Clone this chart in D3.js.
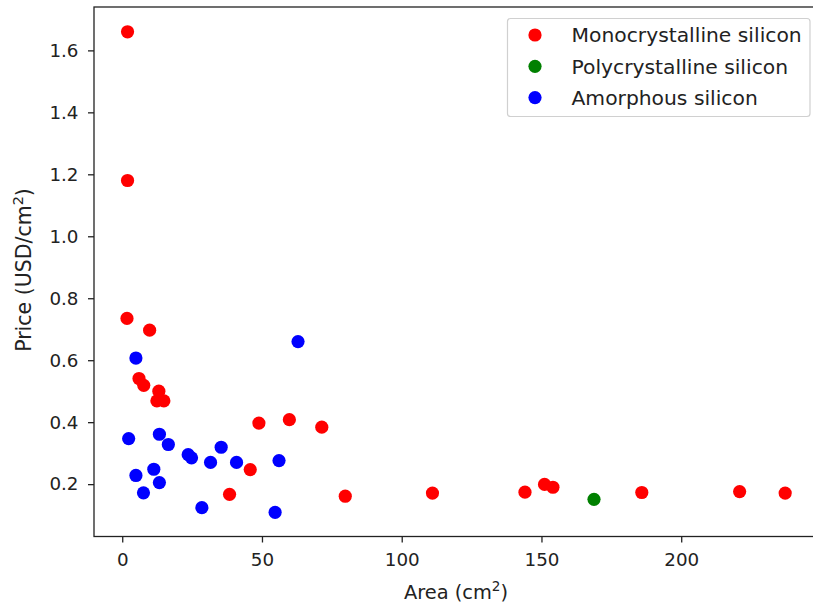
<!DOCTYPE html>
<html>
<head>
<meta charset="utf-8">
<script src="https://cdn.jsdelivr.net/npm/d3@7"></script>
<style>
  body { margin: 0; background: #fff; }
  svg text { font-family: "DejaVu Sans", sans-serif; fill: #222; }
</style>
</head>
<body>
<svg id="chart"></svg>
<script>
// values
var monoArea  = [1.9, 1.9, 1.7, 9.8, 6.0, 7.7, 13.1, 12.4, 14.9, 48.9, 59.8, 71.4, 45.8, 38.4, 79.8, 111.0, 144.1, 151.1, 154.1, 185.9, 220.9, 237.2]
var monoPrice = [1.66, 1.18, 0.735, 0.697, 0.541, 0.519, 0.50, 0.469, 0.469, 0.397, 0.408, 0.384, 0.247, 0.167, 0.161, 0.171, 0.174, 0.199, 0.190, 0.173, 0.176, 0.171]

var polyArea  = [168.8]
var polyPrice = [0.151]

var amorArea  = [4.9, 2.3, 13.3, 16.5, 23.6, 24.8, 35.4, 31.6, 40.9, 56.1, 4.9, 11.3, 13.3, 7.6, 28.5, 54.7, 62.9]
var amorPrice = [0.607, 0.347, 0.361, 0.328, 0.295, 0.285, 0.319, 0.270, 0.270, 0.276, 0.228, 0.248, 0.205, 0.172, 0.124, 0.109, 0.660]

var xTicks = [0, 50, 100, 150, 200]
var yTicks = [0.2, 0.4, 0.6, 0.8, 1.0, 1.2, 1.4, 1.6]

var series = [
  {name: "Monocrystalline silicon", color: "red", x: monoArea, y: monoPrice},
  {name: "Polycrystalline silicon", color: "green", x: polyArea, y: polyPrice},
  {name: "Amorphous silicon", color: "blue", x: amorArea, y: amorPrice}
]

var width = 813, height = 608
var plotLeft = 94, plotTop = 7, plotRight = 819, plotBottom = 536.5
var tickFont = 18.3, labelFont = 19.4, yLabelFont = 20.5, legendFont = 20.3

var svg = d3.select("#chart").attr("width", width).attr("height", height)

var x = d3.scaleLinear().domain([-10.1, 249.3]).range([plotLeft, plotRight])
var y = d3.scaleLinear().domain([0.031, 1.740]).range([plotBottom, plotTop])

// points
series.forEach(function(s) {
  svg.append("g").selectAll("circle")
    .data(d3.range(s.x.length))
    .enter().append("circle")
    .attr("cx", function(i) { return x(s.x[i]); })
    .attr("cy", function(i) { return y(s.y[i]); })
    .attr("r", 6.6)
    .attr("fill", s.color)
})

// axes
var xAxis = svg.append("g")
  .attr("transform", "translate(0," + plotBottom + ")")
  .call(d3.axisBottom(x).tickValues(xTicks).tickSize(6).tickPadding(10.5).tickFormat(d3.format("d")))
var yAxis = svg.append("g")
  .attr("transform", "translate(" + plotLeft + ",0)")
  .call(d3.axisLeft(y).tickValues(yTicks).tickSize(6).tickPadding(9.5).tickFormat(d3.format(".1f")))

;[xAxis, yAxis].forEach(function(a) {
  a.select(".domain").remove()
  a.selectAll(".tick line").attr("stroke", "#222").attr("stroke-width", 1.3)
  a.selectAll(".tick text").attr("font-size", tickFont).attr("font-family", "DejaVu Sans").attr("fill", "#222")
})

// frame
svg.append("rect")
  .attr("x", plotLeft).attr("y", plotTop)
  .attr("width", plotRight - plotLeft).attr("height", plotBottom - plotTop)
  .attr("fill", "none").attr("stroke", "#222").attr("stroke-width", 1.3)

// axis labels
var xl = svg.append("text")
  .attr("x", 456).attr("y", 598.5)
  .attr("text-anchor", "middle").attr("font-size", labelFont)
xl.append("tspan").text("Area (cm")
xl.append("tspan").attr("font-size", labelFont * 0.7).attr("dy", -8).text("2")
xl.append("tspan").attr("dy", 8).text(")")

var yl = svg.append("text")
  .attr("transform", "translate(31,270) rotate(-90)")
  .attr("text-anchor", "middle").attr("font-size", yLabelFont)
yl.append("tspan").text("Price (USD/cm")
yl.append("tspan").attr("font-size", yLabelFont * 0.7).attr("dy", -8).text("2")
yl.append("tspan").attr("dy", 8).text(")")

// legend
var legend = svg.append("g")
legend.append("rect")
  .attr("x", 507.5).attr("y", 18.5)
  .attr("width", 302.5).attr("height", 98)
  .attr("rx", 3).attr("ry", 3)
  .attr("fill", "white").attr("fill-opacity", 0.8)
  .attr("stroke", "#d0d0d0").attr("stroke-width", 1.2)

var rows = legend.selectAll("g.row")
  .data(series)
  .enter().append("g")
  .attr("class", "row")
  .attr("transform", function(d, i) { return "translate(0," + (35 + i * 31.3) + ")"; })
rows.append("circle").attr("cx", 535).attr("cy", 0).attr("r", 6.6).attr("fill", function(d) { return d.color; })
rows.append("text").attr("x", 571.5).attr("y", 7.3).attr("font-size", legendFont).text(function(d) { return d.name; })
</script>
</body>
</html>
